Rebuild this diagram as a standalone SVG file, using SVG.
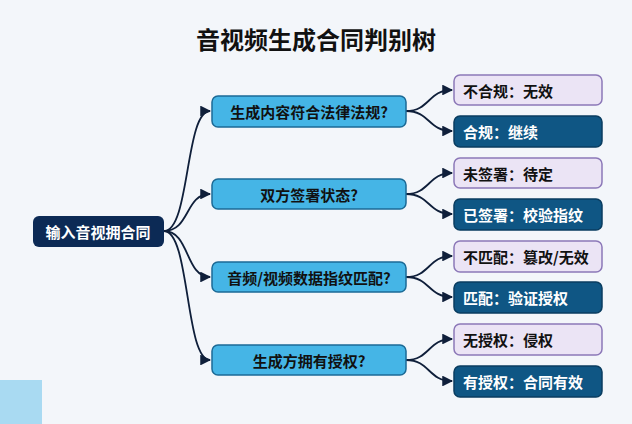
<svg xmlns="http://www.w3.org/2000/svg" width="632" height="424" viewBox="0 0 632 424">
<style>
text{font-family:"Noto Sans CJK SC","Noto Sans",sans-serif;font-weight:bold;dominant-baseline:central}
.q rect{fill:#45b5e6;stroke:#1b6a96;stroke-width:1.5}
.q text{fill:#111;font-size:15px;text-anchor:middle}
.p rect{fill:#ebe4f5;stroke:#8c78b8;stroke-width:1.5}
.p text{fill:#111;font-size:15px}
.d rect{fill:#0f5684;stroke:#0a3d60;stroke-width:1.5}
.d text{fill:#fff;font-size:15px}
.c path{fill:none;stroke:#0f1f3a;stroke-width:1.8;marker-end:url(#a)}
</style>
<defs><marker id="a" viewBox="0 0 10 10" refX="9" refY="5" markerWidth="6" markerHeight="6" orient="auto"><path d="M0,0L10,5L0,10z" fill="#0f1f3a"/></marker></defs>
<rect width="632" height="424" fill="#f3f6fa"/>
<rect x="0" y="380" width="42" height="44" fill="#a9daf2"/>
<text x="316" y="38" text-anchor="middle" font-size="24" fill="#111">音视频生成合同判别树</text>
<g class="c">
<path d="M164,231 C190,231 185,111 210,111"/>
<path d="M164,231 C190,231 185,194 210,194"/>
<path d="M164,231 C190,231 185,277 210,277"/>
<path d="M164,231 C190,231 185,360 210,360"/>
<path d="M406,111 C430,111 428,90 452,90"/>
<path d="M406,111 C430,111 428,131 452,131"/>
<path d="M406,194 C430,194 428,173 452,173"/>
<path d="M406,194 C430,194 428,214 452,214"/>
<path d="M406,277 C430,277 428,256 452,256"/>
<path d="M406,277 C430,277 428,297 452,297"/>
<path d="M406,360 C430,360 428,339 452,339"/>
<path d="M406,360 C430,360 428,381 452,381"/>
</g>
<g id="root"><rect x="33" y="216" width="131" height="31" rx="6" fill="#0c2a55"/><text x="98" y="231.5" text-anchor="middle" font-size="15" fill="#fff">输入音视拥合同</text></g>
<g id="q1" class="q"><rect x="212" y="96" width="194" height="31" rx="6"/><text x="309" y="111">生成内容符合法律法规?</text></g>
<g id="q2" class="q"><rect x="212" y="179" width="194" height="30" rx="6"/><text x="309" y="194">双方签署状态?</text></g>
<g id="q3" class="q"><rect x="212" y="262" width="194" height="30" rx="6"/><text x="309" y="277">音频/视频数据指纹匹配?</text></g>
<g id="q4" class="q"><rect x="212" y="345" width="194" height="30" rx="6"/><text x="309" y="360">生成方拥有授权?</text></g>
<g id="l1" class="p"><rect x="454" y="75" width="148" height="30" rx="6"/><text x="463" y="90">不合规：无效</text></g>
<g id="l2" class="d"><rect x="454" y="116" width="148" height="31" rx="6"/><text x="463" y="131.5">合规：继续</text></g>
<g id="l3" class="p"><rect x="454" y="158" width="148" height="30" rx="6"/><text x="463" y="173">未签署：待定</text></g>
<g id="l4" class="d"><rect x="454" y="199" width="148" height="31" rx="6"/><text x="463" y="214.5">已签署：校验指纹</text></g>
<g id="l5" class="p"><rect x="454" y="241" width="148" height="31" rx="6"/><text x="463" y="256.5">不匹配：篡改/无效</text></g>
<g id="l6" class="d"><rect x="454" y="282" width="148" height="31" rx="6"/><text x="463" y="297.5">匹配：验证授权</text></g>
<g id="l7" class="p"><rect x="454" y="324" width="148" height="31" rx="6"/><text x="463" y="339.5">无授权：侵权</text></g>
<g id="l8" class="d"><rect x="454" y="366" width="148" height="31" rx="6"/><text x="463" y="381.5">有授权：合同有效</text></g>
</svg>
